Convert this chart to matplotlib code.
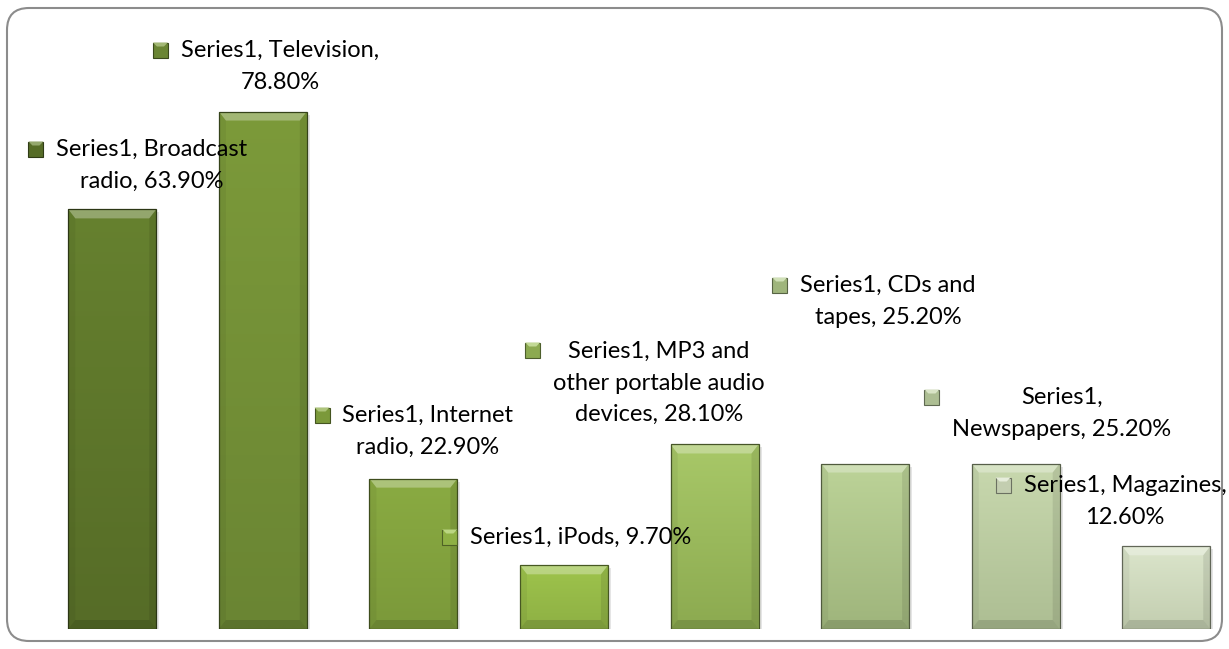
import numpy as np
import matplotlib
matplotlib.use("Agg")
import matplotlib.pyplot as plt
from matplotlib.patches import Polygon, Rectangle, FancyBboxPatch
from matplotlib.colors import to_rgb
from matplotlib.transforms import IdentityTransform

W, H = 1229, 649

categories = ["Broadcast radio", "Television", "Internet radio", "iPods",
              "MP3 and other portable audio devices", "CDs and tapes",
              "Newspapers", "Magazines"]
values = [63.9, 78.8, 22.9, 9.7, 28.1, 25.2, 25.2, 12.6]
series_name = "Series1"
# gradient colours per bar (top, bottom)
top_colors = ["#66812f", "#7c9a3a", "#8aab42", "#9ec44c",
              "#a8c868", "#bcd398", "#c8d8ae", "#dbe5cb"]
bottom_colors = ["#566c27", "#6a8533", "#7b993a", "#8eb044",
                 "#8caa50", "#9fb57c", "#adbe93", "#c3ceb0"]
label_texts = [
    "Series1, Broadcast\nradio, 63.90%",
    "Series1, Television,\n78.80%",
    "Series1, Internet\nradio, 22.90%",
    "Series1, iPods, 9.70%",
    "Series1, MP3 and\nother portable audio\ndevices, 28.10%",
    "Series1, CDs and\ntapes, 25.20%",
    "Series1,\nNewspapers, 25.20%",
    "Series1, Magazines,\n12.60%",
]
# label placement in pixels: (text centre x, first line centre y from top)
label_pos = [(152, 149), (280, 50), (428, 415), (581, 537),
             (659, 350), (888, 285), (1062, 397), (1125, 485)]

LINE_PX = 33
FONT = "Lato"
FSIZE = 17


def shade(c, f):
    r = np.array(to_rgb(c))
    if f >= 0:
        return tuple(r + (1 - r) * f)
    return tuple(r * (1 + f))


fig = plt.figure(figsize=(W / 100, H / 100), dpi=100)
ax = fig.add_axes([37 / W, 20 / H, (1222 - 37) / W, (629 - 38) / H])
ax.set_xlim(-0.5, 7.37)
ax.set_ylim(0, 90)
ax.axis("off")

x = np.arange(len(categories))
bars = ax.bar(x, values, width=0.584, color=bottom_colors, zorder=2)

fig.canvas.draw()
to_data = ax.transData.inverted()
p0 = to_data.transform((0, 0))
bx, by = to_data.transform((7, 9)) - p0
s1 = to_data.transform((3, -3)) - p0

for bar, ctop, cbot in zip(bars, top_colors, bottom_colors):
    x0, w, h = bar.get_x(), bar.get_width(), bar.get_height()
    x1 = x0 + w
    # soft shadow
    ax.add_patch(Rectangle((x0 + s1[0], s1[1]), w, h, color="0.6", alpha=0.25,
                           zorder=1, lw=0))
    bar.set_linewidth(0)
    grad = np.linspace(0, 1, 64)[:, None, None]
    img = np.array(to_rgb(ctop)) * (1 - grad) + np.array(to_rgb(cbot)) * grad
    img = np.repeat(img, 2, axis=1)
    im = ax.imshow(img, extent=(x0, x1, 0, h), origin="upper", aspect="auto",
                   zorder=2.1, interpolation="bilinear")
    im.set_clip_path(bar)
    # bevel edges
    ax.add_patch(Polygon([(x0, h), (x1, h), (x1 - bx, h - by), (x0 + bx, h - by)],
                         closed=True, color="white", alpha=0.3, lw=0, zorder=2.2))
    ax.add_patch(Polygon([(x0, 0), (x1, 0), (x1 - bx, by), (x0 + bx, by)],
                         closed=True, color="black", alpha=0.13, lw=0, zorder=2.2))
    ax.add_patch(Polygon([(x0, 0), (x0, h), (x0 + bx, h - by), (x0 + bx, by)],
                         closed=True, color="black", alpha=0.05, lw=0, zorder=2.2))
    ax.add_patch(Polygon([(x1, 0), (x1, h), (x1 - bx, h - by), (x1 - bx, by)],
                         closed=True, color="black", alpha=0.09, lw=0, zorder=2.2))
    ax.add_patch(Rectangle((x0, 0), w, h, fill=False, ec=shade(cbot, -0.5),
                           lw=0.9, zorder=2.3))

# data labels with legend keys
renderer = fig.canvas.get_renderer()
for txt, (cx, ly), ctop, cbot in zip(label_texts, label_pos, top_colors, bottom_colors):
    n = txt.count("\n") + 1
    cy = ly + (n - 1) * LINE_PX / 2
    t = fig.text(cx / W, 1 - cy / H, txt, ha="center", va="center",
                 ma="center", fontsize=FSIZE, family=FONT, color="black",
                 linespacing=1.62, zorder=5)
    bb = t.get_window_extent(renderer)
    kx = bb.x0 - 13 - 15
    ky = H - ly - 7.5
    fig.add_artist(Rectangle((kx, ky), 15, 15, transform=IdentityTransform(),
                             fc=cbot, ec=shade(cbot, -0.45), lw=0.8,
                             zorder=4))
    fig.add_artist(Polygon([(kx, ky + 15), (kx + 15, ky + 15), (kx + 11, ky + 11),
                            (kx + 4, ky + 11)], closed=True,
                           transform=IdentityTransform(), color=shade(ctop, 0.3),
                           lw=0, zorder=4.1))

# rounded chart frame
frame = FancyBboxPatch((7, 8), 1215, 633,
                       boxstyle="round,pad=0,rounding_size=22",
                       transform=IdentityTransform(), fill=False,
                       ec="#8c8c8c", lw=1.5, zorder=0)
fig.add_artist(frame)

fig.savefig("out.png", dpi=100)
